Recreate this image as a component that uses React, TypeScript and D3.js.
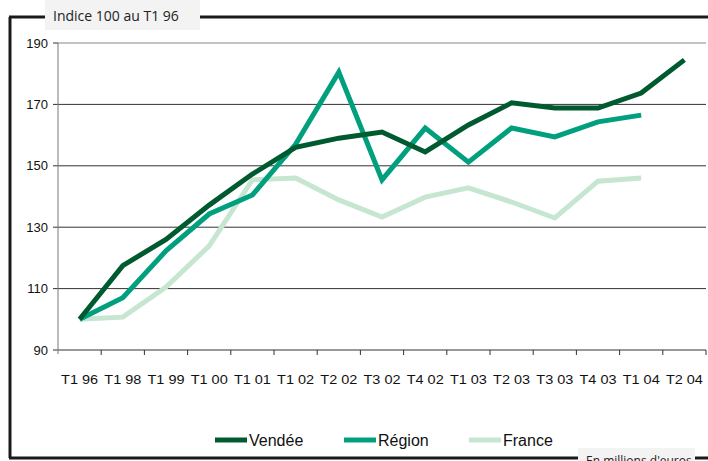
import React from "react";
import * as d3 from "d3";

const quarters = ["T1 96", "T1 98", "T1 99", "T1 00", "T1 01", "T1 02", "T2 02", "T3 02", "T4 02", "T1 03", "T2 03", "T3 03", "T4 03", "T1 04", "T2 04"];
const vendee = [100, 117.5, 126, 137.2, 147.3, 156, 159, 161, 154.5, 163.3, 170.5, 168.8, 168.8, 173.7, 184.5];
const region = [100, 107, 122.3, 134.3, 140.5, 157, 180.5, 145.4, 162.3, 151.2, 162.3, 159.4, 164.3, 166.5];
const france = [100, 100.7, 110.5, 123.9, 145.4, 146, 138.9, 133.3, 139.8, 142.8, 138.2, 133, 145, 146];
const yTicks = [90, 110, 130, 150, 170, 190];

const series = [
  { name: "Vendée", values: vendee, color: "#005a30", lx: 215 },
  { name: "Région", values: region, color: "#00a07e", lx: 344 },
  { name: "France", values: france, color: "#c6e6d1", lx: 469 },
];

const W = 708;
const H = 461;

export default function App() {
  const x = d3.scaleBand().domain(quarters).range([58, 706]);
  const y = d3.scaleLinear().domain([90, 190]).range([350, 43]);
  const line = d3
    .line<number>()
    .x((d, i) => (x(quarters[i]) as number) + x.bandwidth() / 2)
    .y((d) => y(d));

  const font = "'Liberation Sans', Arial, sans-serif";

  return (
    <svg width={W} height={H} style={{ position: "absolute", left: 0, top: 0 }}>
      <rect width={W} height={H} fill="#fff" />
      {/* frame */}
      <g stroke="#1a1a1a" strokeWidth={3} fill="none">
        <line x1={10} y1={17} x2={10} y2={458} />
        <line x1={9} y1={17} x2={45} y2={17} />
        <line x1={200} y1={17} x2={708} y2={17} />
        <line x1={9} y1={458} x2={578} y2={458} />
        <line x1={695} y1={458} x2={708} y2={458} />
      </g>
      <rect x={45} y={0} width={155} height={30} fill="#f3f3f3" />
      <text x={53} y={21} fontFamily="'Open Sans', sans-serif" fontSize={14} fill="#222">
        Indice 100 au T1 96
      </text>
      <rect x={578} y={448} width={117} height={13} fill="#f3f3f3" />
      <text x={586} y={465} fontFamily="'Open Sans', sans-serif" fontSize={12} fill="#222">
        En millions d'euros
      </text>

      {/* grid */}
      {yTicks.map((t) => (
        <g key={t}>
          <line x1={58} x2={706} y1={y(t)} y2={y(t)} stroke={t === 190 ? "#888" : "#333"} strokeWidth={1} />
          <line x1={53} x2={58} y1={y(t)} y2={y(t)} stroke="#333" />
          <text x={48} y={y(t)} dy="0.35em" textAnchor="end" fontFamily={font} fontSize={13} fill="#111">
            {t}
          </text>
        </g>
      ))}
      <line x1={58} x2={58} y1={y(190)} y2={y(90) + 4} stroke="#777" />
      {quarters.map((q, i) => (
        <g key={q}>
          <line
            x1={(x(q) as number) + x.bandwidth()}
            x2={(x(q) as number) + x.bandwidth()}
            y1={y(90)}
            y2={y(90) + 5}
            stroke="#333"
          />
          <text
            x={(x(q) as number) + x.bandwidth() / 2}
            y={384}
            textAnchor="middle"
            fontFamily={font}
            fontSize={12}
            fill="#111"
            textLength={37}
            lengthAdjust="spacingAndGlyphs"
          >
            {q}
          </text>
        </g>
      ))}

      {[...series].reverse().map((s) => (
        <path
          key={s.name}
          d={line(s.values) as string}
          fill="none"
          stroke={s.color}
          strokeWidth={5}
          strokeLinejoin="miter"
        />
      ))}

      {/* legend */}
      {series.map((s) => (
        <g key={s.name}>
          <line x1={s.lx} x2={s.lx + 32} y1={440} y2={440} stroke={s.color} strokeWidth={5} />
          <text x={s.lx + 34} y={446} fontFamily={font} fontSize={16} fill="#111">
            {s.name}
          </text>
        </g>
      ))}
    </svg>
  );
}
